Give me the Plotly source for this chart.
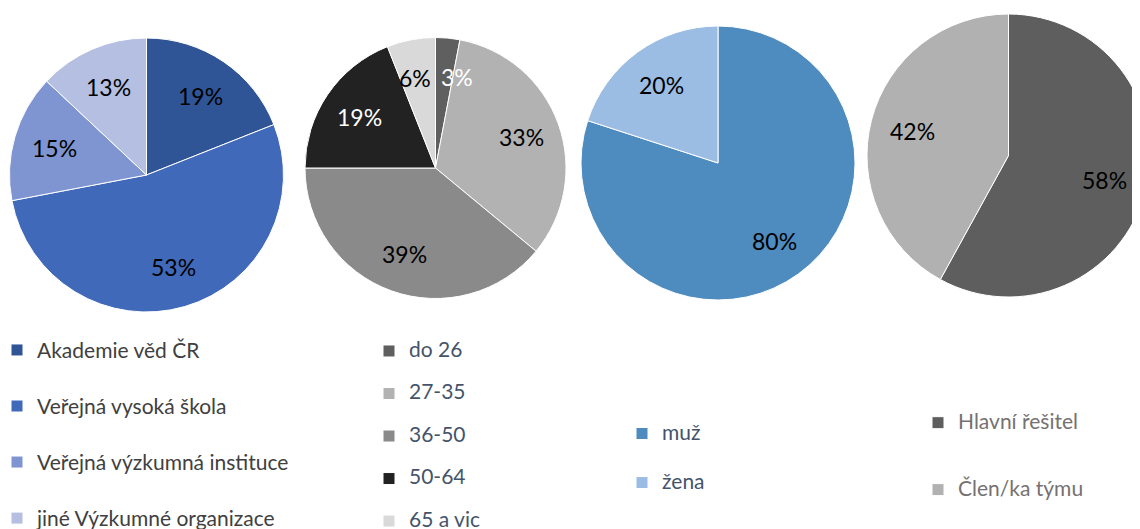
import math
import plotly.graph_objects as go

FONT = "Lato"

inst_labels = ["Akademie věd ČR", "Veřejná vysoká škola", "Veřejná výzkumná instituce", "jiné Výzkumné organizace"]
inst_values = [19, 53, 15, 13]

age_labels = ["do 26", "27-35", "36-50", "50-64", "65 a vic"]
age_values = [3, 33, 39, 19, 6]

sex_labels = ["muž", "žena"]
sex_values = [80, 20]

role_labels = ["Hlavní řešitel", "Člen/ka týmu"]
role_values = [58, 42]

inst_colors = ["#2F5597", "#4169BA", "#7F95D1", "#B4BFE2"]
age_colors = ["#5F5F5F", "#B2B2B2", "#8A8A8A", "#222222", "#D9D9D9"]
age_text = ["white", "black", "black", "white", "black"]
sex_colors = ["#4E8BBF", "#9CBDE3"]
role_colors = ["#5E5E5E", "#B1B1B1"]

LEG_FS = 21
PIE_FS = 23
W, H = 1150, 529
OFF = 8  # page body margin in the browser


def leg_labels(names, lines):
    return [f"<span style='font-size:{LEG_FS}px'>{n}</span>" + "<br> " * (lines - 1) for n in names]


fig = go.Figure()
annotations = []


def add_pie(names, values, colors, tcolors, geom, legend, lines):
    cx, cy, R = geom
    dom_x = [max(0, (cx - R - OFF) / W), min(1, (cx + R - OFF) / W)]
    dom_y = [max(0, 1 - (cy + R - OFF) / H), min(1, 1 - (cy - R - OFF) / H)]
    fig.add_trace(go.Pie(
        labels=leg_labels(names, lines), values=values, customdata=names,
        sort=False, direction="clockwise", rotation=0,
        marker=dict(colors=colors, line=dict(color="white", width=1)),
        textinfo="none",
        hovertemplate="%{customdata}: %{percent:.0%}<extra></extra>",
        domain=dict(x=dom_x, y=dom_y), legend=legend,
    ))
    # percentage labels placed along each slice's bisector
    total = sum(values)
    if isinstance(tcolors, str):
        tcolors = [tcolors] * len(values)
    cum = 0
    for v, c in zip(values, tcolors):
        frac = v / total
        theta = 2 * math.pi * (cum + frac / 2)
        cum += frac
        r = 0.7 * R
        px = cx + r * math.sin(theta)
        py = cy - r * math.cos(theta)
        xanchor = "center"
        if frac < 0.1:
            if math.sin(theta) >= 0:
                px, xanchor = cx + 3, "left"
            else:
                px, xanchor = cx - 3, "right"
        annotations.append(dict(
            x=(px - OFF) / W, y=1 - (py - OFF) / H, xref="paper", yref="paper",
            text=f"{frac:.0%}", showarrow=False, xanchor=xanchor, yanchor="middle",
            font=dict(family=FONT, size=PIE_FS, color=c),
        ))


add_pie(inst_labels, inst_values, inst_colors, "black", (146.5, 175, 137), "legend", 2)
add_pie(age_labels, age_values, age_colors, age_text, (435.5, 168, 130.5), "legend2", 2)
add_pie(sex_labels, sex_values, sex_colors, "black", (718, 163, 137), "legend3", 2)
add_pie(role_labels, role_values, role_colors, "black", (1008.5, 155.5, 141.5), "legend4", 3)


def legend(x, top, color, fs):
    return dict(x=x / W, y=1 - top / H, xanchor="left", yanchor="top", orientation="v",
                font=dict(family=FONT, size=fs, color=color), valign="top",
                itemwidth=30, bgcolor="rgba(0,0,0,0)", itemclick=False, itemdoubleclick=False)


fig.update_layout(
    width=W, height=H, margin=dict(l=0, r=0, t=0, b=0, autoexpand=False),
    paper_bgcolor="white", plot_bgcolor="white",
    showlegend=True,
    legend=legend(-11, 322.2, "#404040", 20.4),
    legend2=legend(361, 326.6, "#44546A", 15.2),
    legend3=legend(614, 407.5, "#44546A", 17.7),
    legend4=legend(910, 397.5, "#767171", 16.4),
    annotations=annotations,
)

fig.write_html("out.html")
